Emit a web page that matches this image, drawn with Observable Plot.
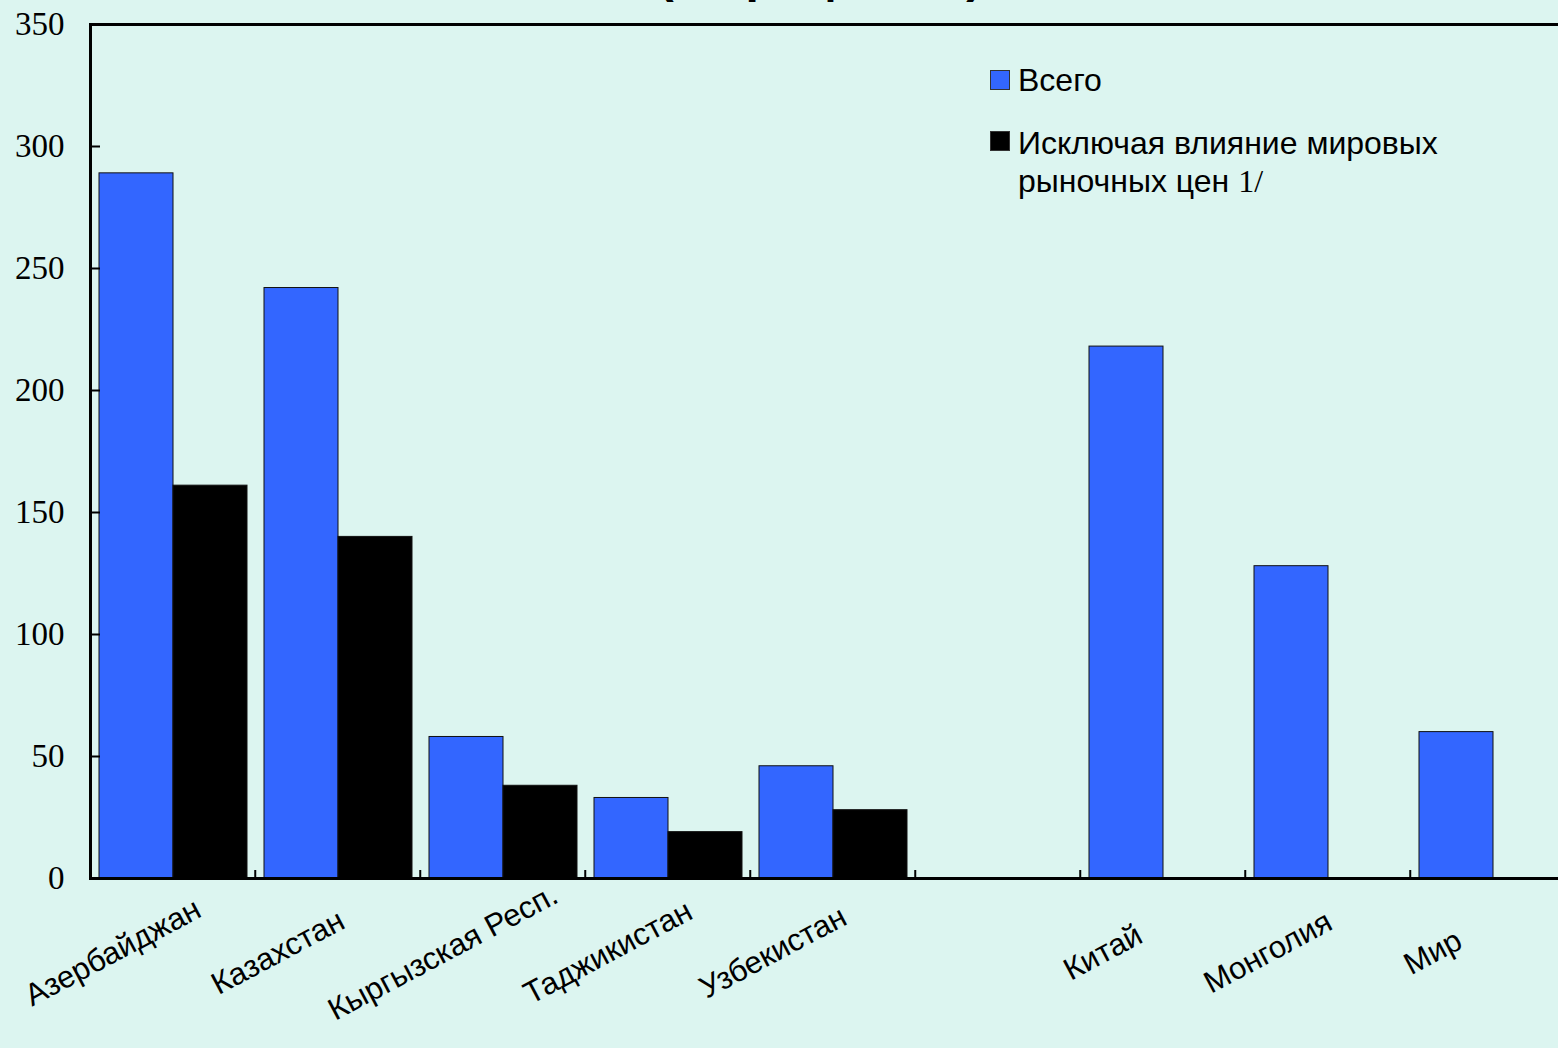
<!DOCTYPE html>
<html>
<head>
<meta charset="utf-8">
<script src="https://cdn.jsdelivr.net/npm/d3@7"></script>
<script src="https://cdn.jsdelivr.net/npm/@observablehq/plot@0.6"></script>
<style>
  html, body { margin: 0; padding: 0; background: #dcf5f0; overflow: hidden; width: 1558px; height: 1048px; }
  #wrap { position: relative; width: 1558px; height: 1048px; overflow: hidden; }
  #chart { position: absolute; left: 0; top: 0; }
  #chart svg { max-width: none; }
  .title { position: absolute; left: 520px; width: 600px; top: -48px; text-align: center;
           font: bold 48px/48px "Liberation Sans", Arial, sans-serif; color: #000; white-space: nowrap; }
  .leg { position: absolute; font: 32px/32px "Liberation Sans", Arial, sans-serif; color: #000; white-space: nowrap; }
  .sw { position: absolute; width: 20px; height: 20px; box-sizing: border-box; border: 1px solid #333; }
  .serif { font-family: "Liberation Serif", "Times New Roman", serif; }
</style>
</head>
<body>
<div id="wrap">
  <div id="chart"></div>
  <div class="title">(в процентах)</div>
  <div id="legend"></div>
</div>
<script>
// ---- data ----
const categories = ["Азербайджан", "Казахстан", "Кыргызская Респ.", "Таджикистан", "Узбекистан", " ", "Китай", "Монголия", "Мир"];
const totalValues = [289, 242, 58, 33, 46, null, 218, 128, 60];
const exPriceValues = [161, 140, 38, 19, 28, null, null, null, null];
const seriesNames = ["Всего", "Исключая влияние мировых рыночных цен 1/"];
const seriesColors = ["#3366ff", "#000000"];
const yTicks = [0, 50, 100, 150, 200, 250, 300, 350];

// every category gets a row (null = no bar), so that every slot keeps its place
const rows = [];
categories.forEach((c, i) => {
  rows.push({category: c, series: seriesNames[0], value: totalValues[i]});
  rows.push({category: c, series: seriesNames[1], value: exPriceValues[i]});
});
const labelRows = categories.filter(c => c.trim() !== "");

const bandW = 165.5;
const chart = Plot.plot({
  width: 88 + categories.length * bandW,
  height: 1048,
  marginLeft: 88,
  marginRight: 0,
  marginTop: 24,
  marginBottom: 170,
  style: {background: "transparent", fontFamily: "Liberation Sans, Arial, sans-serif"},
  fx: {domain: categories, padding: 0, axis: null, label: null},
  x: {domain: seriesNames, paddingInner: 0, paddingOuter: 0.103, axis: null},
  y: {domain: [0, 350], axis: null},
  color: {domain: seriesNames, range: seriesColors},
  marks: [
    Plot.barY(rows, {fx: "category", x: "series", y: "value", fill: "series", stroke: "#111", strokeWidth: 1}),
    Plot.ruleY([0], {stroke: "#000", strokeWidth: 3}),
    Plot.ruleY([350], {stroke: "#000", strokeWidth: 3}),
    Plot.frame({anchor: "left", facetAnchor: "left", stroke: "#000", strokeWidth: 3}),
    Plot.axisY({ticks: yTicks, tickSize: -10, tickFormat: () => "", strokeWidth: 2, label: null, facetAnchor: "left"}),
    Plot.axisY({ticks: yTicks, tickSize: 0, tickPadding: 26, label: null, facetAnchor: "left",
                fontSize: 33, fontFamily: "Liberation Serif, Times New Roman, serif", fill: "#000"}),
    Plot.axisFx({anchor: "bottom", tickSize: -8, dx: -bandW / 2, tickFormat: () => "", strokeWidth: 2, label: null}),
    Plot.text(labelRows, {fx: d => d, text: d => d, frameAnchor: "bottom", rotate: -28,
                          textAnchor: "middle", lineAnchor: "middle", dx: -60, dy: 74,
                          fontSize: 31, fill: "#000"})
  ]
});
document.getElementById("chart").appendChild(chart);

// legend
const legend = document.getElementById("legend");
legend.innerHTML = `
  <div class="sw" style="left:990px;top:70px;background:${seriesColors[0]}"></div>
  <div class="leg" style="left:1018px;top:64px">${seriesNames[0]}</div>
  <div class="sw" style="left:990px;top:131px;background:${seriesColors[1]}"></div>
  <div class="leg" style="left:1018px;top:127px">Исключая влияние мировых</div>
  <div class="leg" style="left:1018px;top:165px">рыночных цен <span class="serif">1/</span></div>
`;
</script>
</body>
</html>
